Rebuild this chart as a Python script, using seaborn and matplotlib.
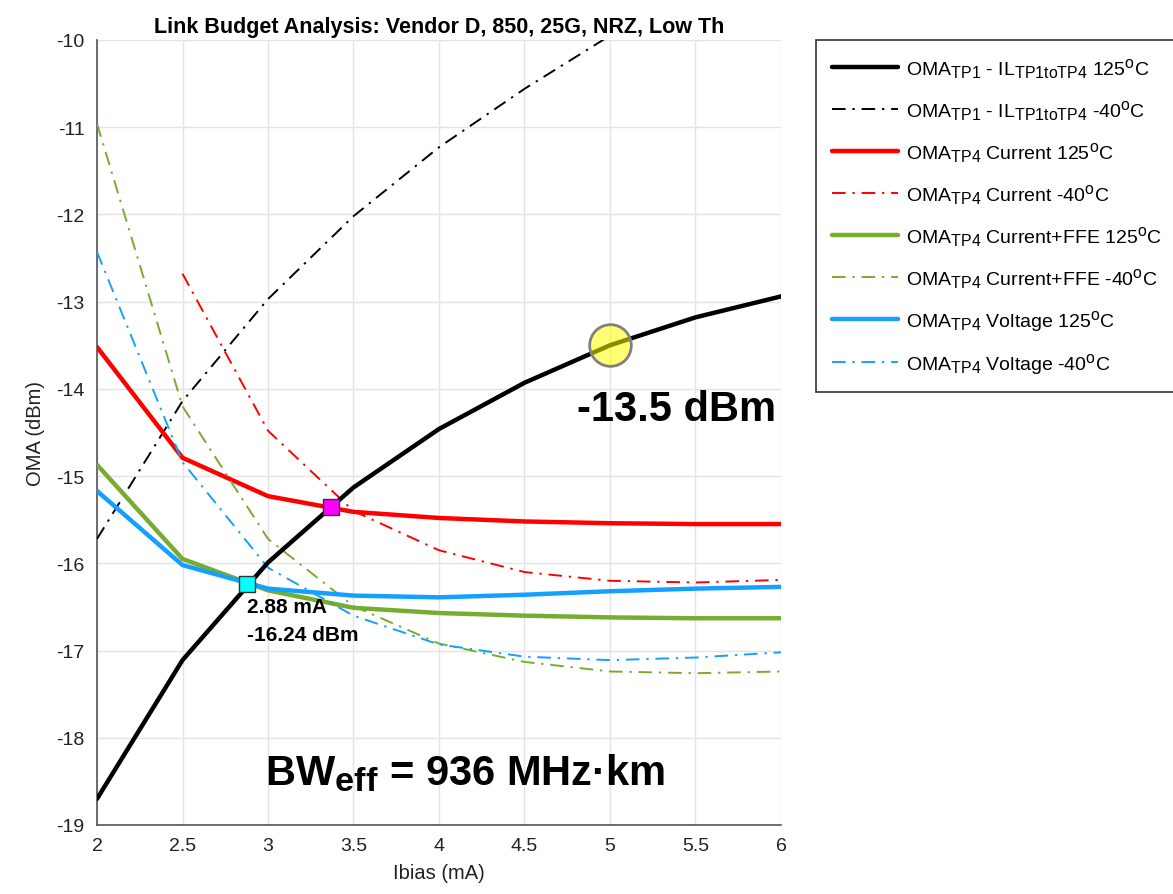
import numpy as np
import matplotlib
matplotlib.use('Agg')
import matplotlib.pyplot as plt
import matplotlib._mathtext as mathtext_internal
import seaborn as sns

ibias = [2.0, 2.5, 3.0, 3.5, 4.0, 4.5, 5.0, 5.5, 6.0]
ibias_red_cold = [2.5, 3.0, 3.5, 4.0, 4.5, 5.0, 5.5, 6.0]

tp1_hot = [-18.70, -17.11, -15.99, -15.13, -14.46, -13.93, -13.50, -13.18, -12.94]
tp1_cold = [-15.72, -14.14, -12.97, -12.02, -11.23, -10.56, -9.95, -9.45, -9.00]
cur_hot = [-13.52, -14.79, -15.23, -15.41, -15.48, -15.52, -15.54, -15.55, -15.55]
cur_cold = [-12.68, -14.48, -15.40, -15.85, -16.10, -16.20, -16.22, -16.19]
ffe_hot = [-14.87, -15.95, -16.31, -16.51, -16.57, -16.60, -16.62, -16.63, -16.63]
ffe_cold = [-10.96, -14.20, -15.72, -16.49, -16.92, -17.13, -17.24, -17.26, -17.24]
volt_hot = [-15.17, -16.02, -16.29, -16.37, -16.39, -16.36, -16.32, -16.29, -16.27]
volt_cold = [-12.43, -14.84, -16.05, -16.60, -16.93, -17.07, -17.11, -17.08, -17.02]

cross_cur = (3.37, -15.35)
cross_volt = (2.88, -16.24)
target = (5.0, -13.5)

RED = '#ff0000'
GREEN = '#77ac30'
BLUE = '#14a0ff'

# MATLAB-like sub/superscripts are bigger than matplotlib's default
mathtext_internal.SHRINK_FACTOR = 0.82

sns.set_style('white')
plt.rcParams['font.family'] = ['Liberation Sans', 'DejaVu Sans']
plt.rcParams['text.color'] = 'black'
plt.rcParams['mathtext.fontset'] = 'custom'
plt.rcParams['mathtext.rm'] = 'Liberation Sans'
plt.rcParams['mathtext.it'] = 'Liberation Sans:italic'
plt.rcParams['mathtext.bf'] = 'Liberation Sans:bold'
plt.rcParams['mathtext.default'] = 'regular'

fig = plt.figure(figsize=(11.73, 8.95), dpi=100)
ax = fig.add_axes([0.0827, 0.0771, 0.5831, 0.8771])

dd = (0, (7, 3.5, 1.2, 3.5))
series = [
    (ibias, tp1_hot, 'black', 3.2, '-', r'OMA$_{TP1}$ - IL$_{TP1toTP4}$ 125$^{o}$C'),
    (ibias, tp1_cold, 'black', 1.4, dd, r'OMA$_{TP1}$ - IL$_{TP1toTP4}$ -40$^{o}$C'),
    (ibias, cur_hot, RED, 3.2, '-', r'OMA$_{TP4}$ Current 125$^{o}$C'),
    (ibias_red_cold, cur_cold, RED, 1.4, dd, r'OMA$_{TP4}$ Current -40$^{o}$C'),
    (ibias, ffe_hot, GREEN, 3.2, '-', r'OMA$_{TP4}$ Current+FFE 125$^{o}$C'),
    (ibias, ffe_cold, GREEN, 1.4, dd, r'OMA$_{TP4}$ Current+FFE -40$^{o}$C'),
    (ibias, volt_hot, BLUE, 3.2, '-', r'OMA$_{TP4}$ Voltage 125$^{o}$C'),
    (ibias, volt_cold, BLUE, 1.4, dd, r'OMA$_{TP4}$ Voltage -40$^{o}$C'),
]
for i, (x, y, c, lw, ls, lab) in enumerate(series):
    z = 5 if i == 0 else 3
    sns.lineplot(x=x, y=y, color=c, linewidth=lw, linestyle=ls, label=lab,
                 ax=ax, zorder=z)

# intersection markers
ax.scatter([cross_cur[0]], [cross_cur[1]], marker='s', s=140, color='#ff00ff',
           edgecolor='#333333', linewidth=1, zorder=6)
ax.scatter([cross_volt[0]], [cross_volt[1]], marker='s', s=140, color='#00ffff',
           edgecolor='#333333', linewidth=1, zorder=6)
ax.scatter([target[0]], [target[1]], marker='o', s=900, facecolor=(1, 1, 0, 0.55),
           edgecolor='#808080', linewidth=2, zorder=6)

ax.text(5.97, -14.23, '-13.5 dBm', fontsize=30, fontweight='bold', ha='right', va='center')
ax.text(2.98, -18.39, r'BW$_{\mathbf{eff}}$ = 936 MHz·km', fontsize=30, fontweight='bold',
        ha='left', va='center')
ax.text(2.877, -16.49, '2.88 mA', fontsize=15, fontweight='bold', ha='left', va='center')
ax.text(2.877, -16.82, '-16.24 dBm', fontsize=15, fontweight='bold', ha='left', va='center')

ax.set_xlim(2, 6)
ax.set_ylim(-19, -10)
ax.set_xticks(np.arange(2, 6.01, 0.5))
ax.set_xticklabels(['2', '2.5', '3', '3.5', '4', '4.5', '5', '5.5', '6'])
ax.set_yticks(np.arange(-19, -9.99, 1))
ax.set_yticklabels([str(v) for v in range(-19, -9)])
ax.grid(True, color='#e3e3e3', linewidth=1)
ax.set_axisbelow(True)
for s in ['top', 'right']:
    ax.spines[s].set_visible(False)
for s in ['left', 'bottom']:
    ax.spines[s].set_color('#555555')
    ax.spines[s].set_linewidth(1.2)
ax.tick_params(direction='in', length=7, width=1.2, color='#555555',
               labelsize=14, labelcolor='#222222', pad=9)

ax.set_title('Link Budget Analysis: Vendor D, 850, 25G, NRZ, Low Th',
             fontsize=15.5, fontweight='bold', pad=6)
ax.set_xlabel('Ibias (mA)', fontsize=14.5, color='#222222', labelpad=6)
ax.set_ylabel('OMA (dBm)', fontsize=14.5, color='#222222', labelpad=8)

leg = ax.legend(loc='upper left', bbox_to_anchor=(0.6957, 0.954),
                bbox_transform=fig.transFigure, fontsize=14, frameon=True,
                fancybox=False, edgecolor='#333333', framealpha=1,
                handlelength=3.4, handletextpad=0.4, labelspacing=0.94,
                borderpad=0.8, borderaxespad=0)
leg.get_frame().set_linewidth(1.2)
for t in leg.get_texts():
    t.set_color('black')

plt.savefig('out.png', dpi=100)
